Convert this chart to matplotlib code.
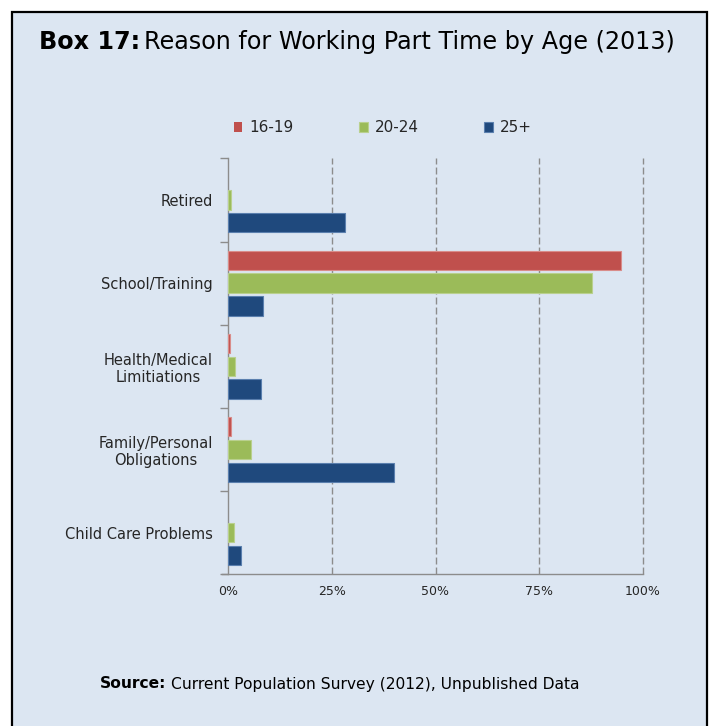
import matplotlib
matplotlib.use("Agg")
import matplotlib.pyplot as plt
import numpy as np
from matplotlib.patches import Rectangle

# ---- data -------------------------------------------------------------
reasons = ["Retired", "School/Training", "Health/Medical\nLimitiations",
           "Family/Personal\nObligations", "Child Care Problems"]
age_groups = ["16-19", "20-24", "25+"]
share_16_19 = [0.0, 94.7, 0.3, 0.6, 0.0]
share_20_24 = [0.7, 87.7, 1.5, 5.4, 1.4]
share_25_up = [28.2, 8.4, 7.9, 40.0, 3.1]
x_ticks = [0, 25, 50, 75, 100]
x_tick_labels = ["0%", "25%", "50%", "75%", "100%"]

colors = ["#C0504D", "#9BBB59", "#1F497D"]
edges = ["#D98C8A", "#B9D08E", "#5A7FAE"]

plt.rcParams["font.family"] = ["DejaVu Sans"]

W, H = 711, 726
fig = plt.figure(figsize=(W / 100, H / 100), dpi=100)
fig.patch.set_facecolor("white")

# framed light-blue panel
panel = Rectangle((12 / W, -0.05), (707 - 12) / W, 1.05 - 12.5 / H,
                  transform=fig.transFigure, facecolor="#DCE6F2",
                  edgecolor="black", linewidth=1.6, zorder=-5)
fig.patches.append(panel)

ax = fig.add_axes([228.3 / W, 1 - 574.3 / H, (642.7 - 228.3) / W, (574.3 - 158.3) / H])
ax.set_facecolor("none")
ax.set_zorder(2)

y = np.arange(len(reasons))
stride = 0.274
bar_h = 0.234
series = [share_16_19, share_20_24, share_25_up]
handles = []
for i, (vals, c, e, lab) in enumerate(zip(series, colors, edges, age_groups)):
    lws = [0.8 if v > 0 else 0 for v in vals]
    bars = ax.barh(y + (i - 1) * stride, vals, height=bar_h, color=c,
                   edgecolor=e, linewidth=lws, label=lab, zorder=3)
    handles.append(bars)

ax.set_xlim(0, 100)
ax.set_ylim(len(reasons) - 0.5, -0.5)

ax.set_xticks(x_ticks)
ax.set_xticklabels(x_tick_labels, fontsize=9, color="#262626")
ax.tick_params(axis="x", length=0, pad=8)
for xv in x_ticks[1:]:
    ax.axvline(xv, color="#8C8C8C", linewidth=1.0, linestyle=(0, (5, 2.2)),
               zorder=1, clip_on=False)

# category separators as major ticks, labels on minor ticks
ax.set_yticks(np.arange(-0.5, len(reasons), 1.0))
ax.set_yticklabels([])
ax.tick_params(axis="y", which="major", length=6, color="#8C8C8C", width=1)
ax.set_yticks(y, minor=True)
ax.set_yticklabels(reasons, minor=True, fontsize=10.5, color="#262626",
                   multialignment="center")
ax.tick_params(axis="y", which="minor", length=0, pad=11)

for s in ["top", "right"]:
    ax.spines[s].set_visible(False)
for s in ["left", "bottom"]:
    ax.spines[s].set_color("#8C8C8C")
    ax.spines[s].set_linewidth(1)
ax.spines["bottom"].set_bounds(-1.6, 100)

leg = fig.legend(handles=handles, labels=age_groups, ncol=3, frameon=False,
                 loc="center left", bbox_to_anchor=(234 / W, 1 - 128 / H),
                 fontsize=11, handlelength=0.55, handleheight=0.55,
                 handletextpad=0.45, columnspacing=4.3, borderaxespad=0,
                 borderpad=0)
for t in leg.get_texts():
    t.set_color("#262626")

fig.canvas.draw()
renderer = fig.canvas.get_renderer()


def two_part(x_px, y_px, bold, rest, size):
    t1 = fig.text(x_px / W, 1 - y_px / H, bold, fontsize=size, fontweight="bold",
                  va="center", ha="left", color="black")
    bb = t1.get_window_extent(renderer)
    fig.text(bb.x1 / W + 0.006, 1 - y_px / H, rest, fontsize=size,
             va="center", ha="left", color="black")


two_part(39, 42, "Box 17:", "Reason for Working Part Time by Age (2013)", 17.2)
two_part(100, 684, "Source:", "Current Population Survey (2012), Unpublished Data", 11.2)

fig.savefig("out.png", dpi=100, facecolor=fig.get_facecolor())
